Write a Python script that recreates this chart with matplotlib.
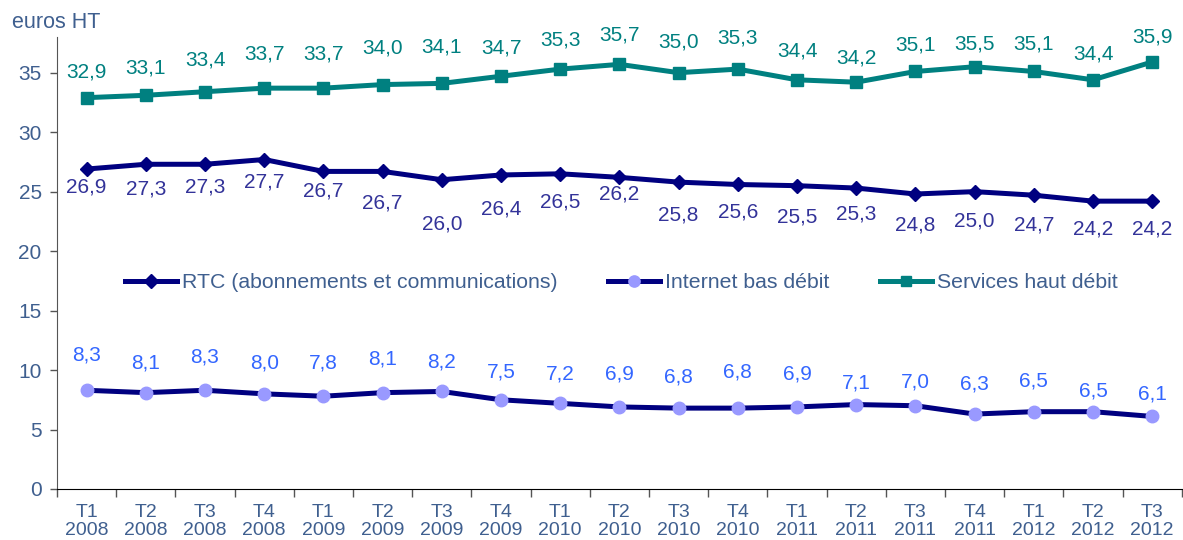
import matplotlib
matplotlib.use("Agg")
import matplotlib.pyplot as plt
import numpy as np

plt.rcParams['font.family'] = ['Liberation Sans', 'DejaVu Sans']

quarters = ["T1", "T2", "T3", "T4", "T1", "T2", "T3", "T4", "T1", "T2", "T3", "T4",
            "T1", "T2", "T3", "T4", "T1", "T2", "T3"]
years = ["2008"] * 4 + ["2009"] * 4 + ["2010"] * 4 + ["2011"] * 4 + ["2012"] * 3

rtc = [26.9, 27.3, 27.3, 27.7, 26.7, 26.7, 26.0, 26.4, 26.5, 26.2, 25.8, 25.6,
       25.5, 25.3, 24.8, 25.0, 24.7, 24.2, 24.2]
internet = [8.3, 8.1, 8.3, 8.0, 7.8, 8.1, 8.2, 7.5, 7.2, 6.9, 6.8, 6.8,
            6.9, 7.1, 7.0, 6.3, 6.5, 6.5, 6.1]
services = [32.9, 33.1, 33.4, 33.7, 33.7, 34.0, 34.1, 34.7, 35.3, 35.7, 35.0, 35.3,
            34.4, 34.2, 35.1, 35.5, 35.1, 34.4, 35.9]

series_names = ["RTC (abonnements et communications)", "Internet bas débit",
                "Services haut débit"]

# label offsets (pixels) relative to points, layout only
off_rtc = [-18, -25, -23, -22, -20, -32, -44, -34, -28, -17, -33, -28, -31, -26,
           -31, -29, -30, -28, -28]
off_int = [35, 30, 33, 31, 33, 34, 29, 28, 29, 33, 31, 36, 33, 22, 24, 30, 31, 21, 22]
off_srv = [26, 27, 32, 34, 34, 37, 36, 28, 29, 29, 31, 31, 29, 24, 26, 23, 27, 26, 25]

NAVY = "#000080"
TEAL = "#008080"
LAV = "#9999FF"
TICKC = "#3F5F8F"

YTOP = 38.0
fig = plt.figure(figsize=(11.83, 5.40), dpi=100)
ax_h_px = 489 - 37
ax = fig.add_axes([57 / 1183, 1 - 489 / 540, 1 - 57 / 1183 - 0.001, ax_h_px / 540])

x = np.arange(len(rtc))
l1, = ax.plot(x, rtc, color=NAVY, lw=3.6, marker="D", ms=7.5, mfc=NAVY, mec=NAVY,
              label=series_names[0], solid_joinstyle="round")
l2, = ax.plot(x, internet, color=NAVY, lw=3.6, marker="o", ms=9, mfc=LAV, mec=LAV,
              label=series_names[1])
l3, = ax.plot(x, services, color=TEAL, lw=3.6, marker="s", ms=8.5, mfc=TEAL, mec=TEAL,
              label=series_names[2])

PX = 0.72
fs_lab = 15
for xi, v, o in zip(x, rtc, off_rtc):
    ax.annotate(f"{v:.1f}".replace(".", ","), (xi, v), xytext=(0, o * PX),
                textcoords="offset points", ha="center", va="center",
                color="#333399", fontsize=fs_lab)
for xi, v, o in zip(x, internet, off_int):
    ax.annotate(f"{v:.1f}".replace(".", ","), (xi, v), xytext=(0, o * PX),
                textcoords="offset points", ha="center", va="center",
                color="#3366FF", fontsize=fs_lab)
for xi, v, o in zip(x, services, off_srv):
    ax.annotate(f"{v:.1f}".replace(".", ","), (xi, v), xytext=(0, o * PX),
                textcoords="offset points", ha="center", va="center",
                color=TEAL, fontsize=fs_lab)

ax.set_xlim(-0.5, len(rtc) - 0.5)
ax.set_ylim(0, YTOP)
ax.set_yticks([0, 5, 10, 15, 20, 25, 30, 35])
ax.tick_params(axis="y", labelsize=15, labelcolor=TICKC, length=5, width=1,
               color="#555555", direction="out", pad=6)

ax.set_xticks(x)
ax.set_xticklabels([f"{q}\n{y}" for q, y in zip(quarters, years)], linespacing=1.05)
ax.set_xticks(np.arange(-0.5, len(rtc) + 0.5, 1), minor=True)
ax.tick_params(axis="x", which="major", length=0, labelsize=14, labelcolor=TICKC, pad=11)
ax.tick_params(axis="x", which="minor", length=6, width=1, color="#555555",
               direction="out")

for s in ["top", "right"]:
    ax.spines[s].set_visible(False)
ax.spines["left"].set_color("#555555")
ax.spines["bottom"].set_color("#000000")

fig.text(12 / 1183, 1 - 23 / 540, "euros HT", color=TICKC, fontsize=15.5,
         ha="left", va="center")

leg = ax.legend(handles=[l1, l2, l3], loc="center left", ncol=3, frameon=False,
                bbox_to_anchor=((125 - 57) / (1183 - 57) - 0.017, (489 - 283) / ax_h_px),
                fontsize=15.3, handlelength=2.45, handletextpad=0.25,
                columnspacing=2.35, labelcolor=TICKC, markerscale=0.9)

fig.savefig("out.png", dpi=100)
